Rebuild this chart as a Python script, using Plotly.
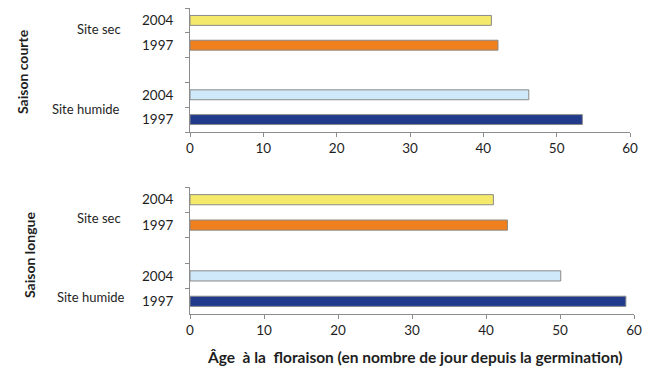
import plotly.graph_objects as go

# ---- data ----
sites = ["Site sec", "Site sec", "Site humide", "Site humide"]
years = ["2004", "1997", "2004", "1997"]
saison_courte = [41.1, 42.0, 46.2, 53.5]
saison_longue = [41.0, 42.9, 50.1, 58.9]
bar_colors = ["#F4E96A", "#F0801E", "#CFE9FA", "#213A8C"]
panel_titles = ["Saison courte", "Saison longue"]
x_title = "Âge  à la  floraison (en nombre de jour depuis la germination)"
x_ticks = [0, 10, 20, 30, 40, 50, 60]

# page has an 8px body margin, so the figure is 8px smaller and offset
OFF = 8
W, H = 669 - OFF, 368 - OFF
def fx(p):
    return (p - OFF) / W
def fy(p):
    return 1 - (p - OFF) / H

keys = [f"{s} {y}" for s, y in zip(sites, years)]
cat_order = ["Site humide 1997", "Site humide 2004", "gap", "Site sec 1997", "Site sec 2004"]
tick_text = ["1997", "2004", "", "1997", "2004"]

FONT = "Lato"
TXT = "#1e1e1e"
GRID = "#8c8c8c"

fig = go.Figure()
for i, vals in enumerate([saison_courte, saison_longue]):
    sfx = "" if i == 0 else "2"
    fig.add_trace(go.Bar(
        x=vals, y=keys, orientation="h", width=0.4,
        marker=dict(color=bar_colors, line=dict(color="#8a8a8a", width=1)),
        xaxis="x" + sfx, yaxis="y" + sfx, showlegend=False,
        hoverinfo="x",
    ))

xdom = [[fx(190), fx(630)], [fx(190), fx(634)]]
ydom = [[fy(132), min(1.0, fy(5))], [fy(314), fy(187)]]
for i in range(2):
    sfx = "" if i == 0 else "2"
    fig.update_layout(**{
        "xaxis" + sfx: dict(
            domain=xdom[i], anchor="y" + sfx, range=[0, 60], tickvals=x_ticks,
            showgrid=False, zeroline=False, showline=True, linecolor=GRID,
            ticks="outside", ticklen=4, tickcolor=GRID, automargin=False,
            tickfont=dict(family=FONT, size=13.5, color=TXT), fixedrange=True,
        ),
        "yaxis" + sfx: dict(
            domain=ydom[i], anchor="x" + sfx, type="category",
            categoryorder="array", categoryarray=cat_order, range=[-0.5, 4.5],
            tickvals=cat_order, ticktext=tick_text, tickson="boundaries",
            showgrid=False, zeroline=False, showline=True, linecolor=GRID,
            ticks="outside", ticklen=4, tickcolor=GRID, automargin=False,
            ticklabelstandoff=13,
            tickfont=dict(family=FONT, size=13.5, color=TXT), fixedrange=True,
        ),
    })

def note(x, y, text, size, angle=0):
    return dict(x=fx(x), y=fy(y), xref="paper", yref="paper", text=text,
                xanchor="center", yanchor="middle", textangle=angle,
                showarrow=False, font=dict(family=FONT, size=size, color=TXT))

ann = []
site_pos = [
    (99, 29, "Site sec"), (86, 109, "Site humide"),
    (99, 218, "Site sec"), (91, 297, "Site humide"),
]
for x, y, t in site_pos:
    ann.append(note(x, y, t, 13))
ann.append(note(22, 72, "<b>" + panel_titles[0] + "</b>", 14, -90))
ann.append(note(29, 255, "<b>" + panel_titles[1] + "</b>", 14, -90))
ann.append(note(415, 357, "<b>" + x_title + "</b>", 15.5))

fig.update_layout(
    width=W, height=H, margin=dict(l=0, r=0, t=0, b=0, autoexpand=False),
    paper_bgcolor="white", plot_bgcolor="white", annotations=ann,
    bargap=0.6,
)
fig.write_html("out.html", config={"displayModeBar": False})
